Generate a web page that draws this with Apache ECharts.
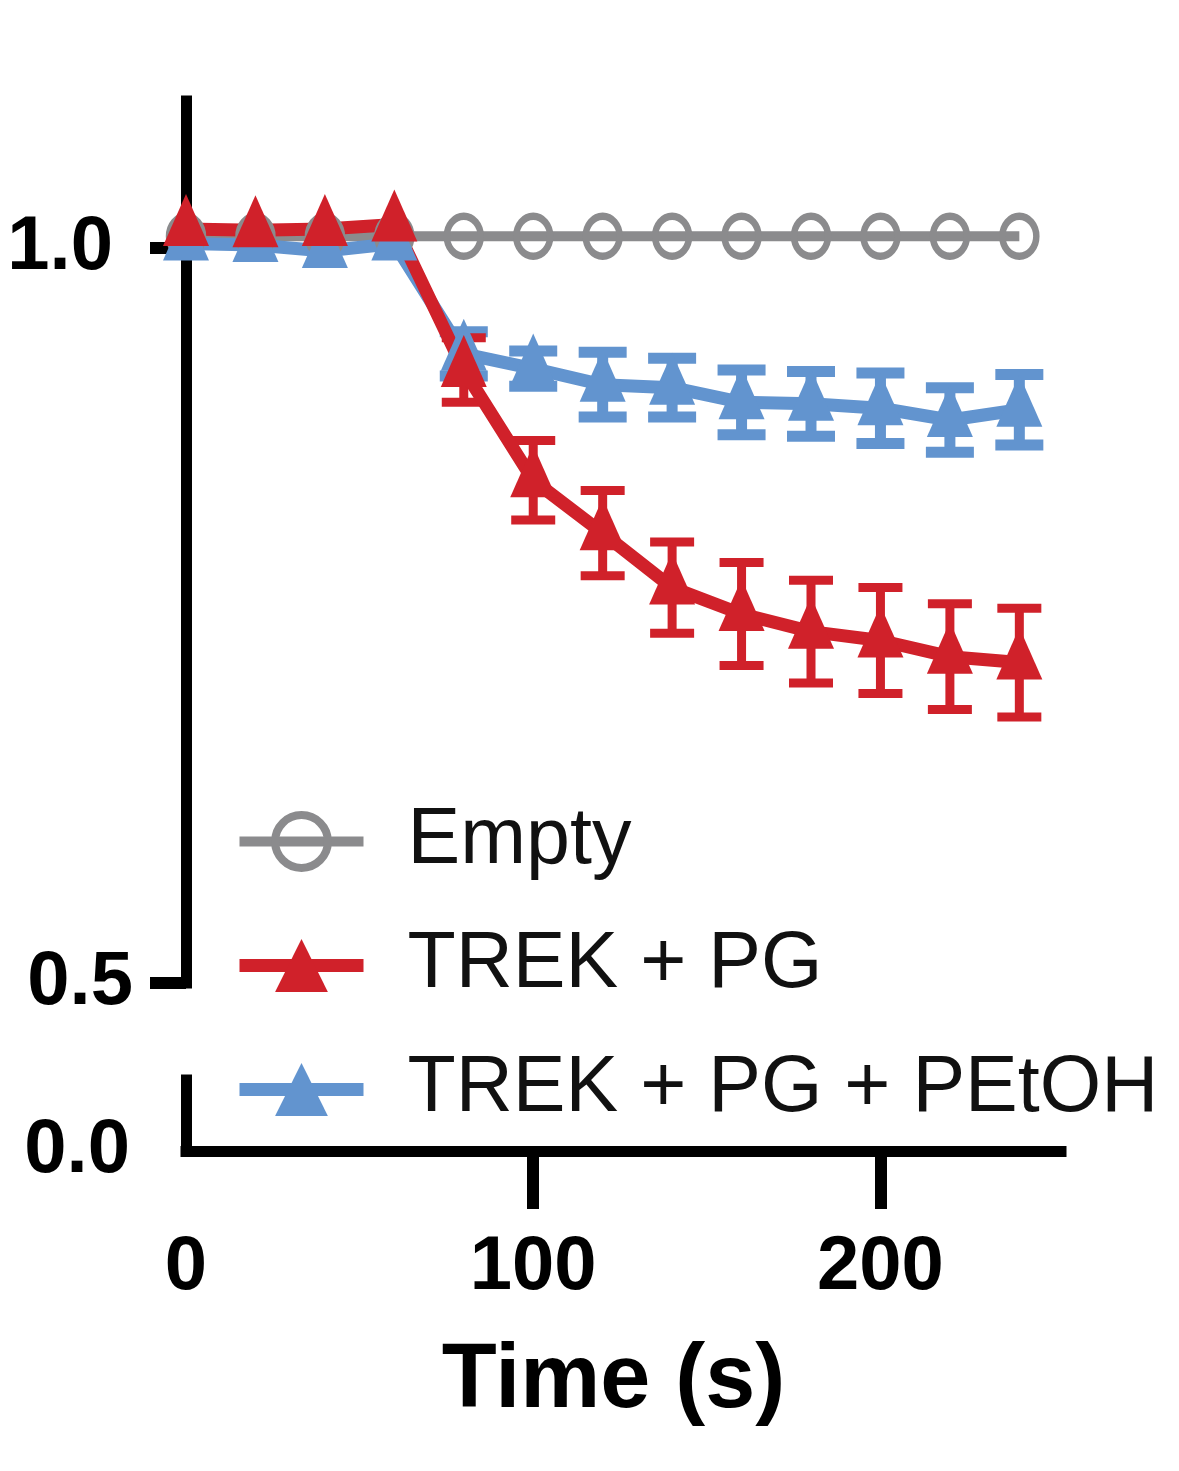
<!DOCTYPE html>
<html>
<head>
<meta charset="utf-8">
<script src="https://cdn.jsdelivr.net/npm/echarts@6/dist/echarts.min.js"></script>
<style>
    html, body { margin: 0; padding: 0; background: #fff; }
    #main { width: 1179px; height: 1471px; }
</style>
</head>
<body>
<div id="main"></div>
<script>
// time points (s)
var times = [0, 20, 40, 60, 80, 100, 120, 140, 160, 180, 200, 220, 240];

// Empty
var emptyVals = [1.008, 1.008, 1.008, 1.008, 1.008, 1.008, 1.008, 1.008, 1.008, 1.008, 1.008, 1.008, 1.008];

// TREK + PG
var pgVals = [1.013, 1.012, 1.013, 1.016, 0.917, 0.842, 0.806, 0.769, 0.751, 0.739, 0.733, 0.722, 0.718];
var pgErr  = [0, 0, 0, 0, 0.022, 0.027, 0.029, 0.031, 0.035, 0.035, 0.036, 0.036, 0.037];

// TREK + PG + PEtOH
var petohVals = [1.003, 1.002, 0.998, 1.003, 0.928, 0.918, 0.907, 0.905, 0.895, 0.894, 0.891, 0.883, 0.890];
var petohErr  = [0, 0, 0, 0, 0.015, 0.012, 0.022, 0.020, 0.022, 0.022, 0.024, 0.022, 0.024];

// tick labels
var yTicksTop = [0.5, 1.0];
var yTicksBottom = [0];
var xLabels = [0, 100, 200];
var xTicks = [100, 200];

var GRAY = '#8b8b8d';
var RED = '#d0212a';
var BLUE = '#6294cf';
var FONT = '"Liberation Sans", Arial, sans-serif';

/**
 * 拼成 [x, y] 数据
 */
var pairs = function(vals) {
    return times.map(function(t, i) { return [t, vals[i]]; });
};

/**
 * 误差线数据 [x, low, high]
 */
var errPairs = function(vals, errs) {
    var out = [];
    times.forEach(function(t, i) {
        if (errs[i] > 0) out.push([t, vals[i] - errs[i], vals[i] + errs[i]]);
    });
    return out;
};

/**
 * 误差线绘制
 */
var errRender = function(color, capW, lw) {
    return function(params, api) {
        var x = api.value(0);
        var lo = api.coord([x, api.value(1)]);
        var hi = api.coord([x, api.value(2)]);
        var st = { stroke: color, lineWidth: lw };
        return {
            type: 'group',
            children: [
                { type: 'line', shape: { x1: hi[0], y1: hi[1], x2: lo[0], y2: lo[1] }, style: st },
                { type: 'line', shape: { x1: hi[0] - capW, y1: hi[1], x2: hi[0] + capW, y2: hi[1] }, style: st },
                { type: 'line', shape: { x1: lo[0] - capW, y1: lo[1], x2: lo[0] + capW, y2: lo[1] }, style: st }
            ]
        };
    };
};

var tickFont = { color: '#000', fontSize: 76, fontWeight: 'bold', fontFamily: FONT };

var chart = echarts.init(document.getElementById('main'));

chart.setOption({
    animation: false,
    backgroundColor: '#fff',
    grid: [
        { left: 186, right: 118, top: 101, bottom: 488 },
        { left: 186, right: 118, top: 1080, bottom: 320 }
    ],
    legend: {
        data: [
            { name: 'Empty', itemStyle: { borderWidth: 8, borderColor: GRAY }, lineStyle: { width: 10 } },
            { name: 'TREK + PG', lineStyle: { width: 13 } },
            { name: 'TREK + PG + PEtOH', lineStyle: { width: 13 } }
        ],
        orient: 'vertical',
        left: 228,
        top: 797,
        itemWidth: 124,
        itemHeight: 66,
        itemGap: 45,
        textStyle: {
            color: '#111',
            fontSize: 79,
            fontFamily: FONT,
            lineHeight: 60,
            padding: [0, 0, 0, 39]
        }
    },
    xAxis: [
        { gridIndex: 0, type: 'value', min: 0, max: 252, show: false },
        {
            gridIndex: 1, type: 'value', min: 0, max: 252,
            axisLine: { show: true, onZero: false, lineStyle: { color: '#000', width: 11, cap: 'square' } },
            axisTick: { show: true, customValues: xTicks, length: 58, lineStyle: { color: '#000', width: 12 } },
            axisLabel: Object.assign({ customValues: xLabels, margin: 79 }, tickFont),
            splitLine: { show: false },
            name: 'Time (s)',
            nameLocation: 'middle',
            nameGap: 186,
            nameTextStyle: { color: '#000', fontSize: 90, fontWeight: 'bold', fontFamily: FONT, padding: [0, 20, 0, 0] }
        }
    ],
    yAxis: [
        {
            gridIndex: 0, type: 'value', min: 0.5, max: 1.1,
            axisLine: { show: true, lineStyle: { color: '#000', width: 11, cap: 'square' } },
            axisTick: { show: true, customValues: yTicksTop, length: 36, lineStyle: { color: '#000', width: 12 } },
            axisLabel: Object.assign({
                customValues: yTicksTop,
                margin: 53,
                formatter: function(v) { return v === 1 ? '{a|1.0}' : '{b|0.5}'; },
                rich: {
                    a: Object.assign({ padding: [0, 20, 0, 0] }, tickFont),
                    b: Object.assign({}, tickFont)
                }
            }, tickFont),
            splitLine: { show: false }
        },
        {
            gridIndex: 1, type: 'value', min: 0, max: 1,
            axisLine: { show: true, lineStyle: { color: '#000', width: 11, cap: 'square' } },
            axisTick: { show: false },
            axisLabel: Object.assign({
                customValues: yTicksBottom,
                margin: 56,
                formatter: function() { return '0.0'; }
            }, tickFont),
            splitLine: { show: false }
        }
    ],
    series: [
        {
            name: 'Empty', type: 'line', xAxisIndex: 0, yAxisIndex: 0,
            data: pairs(emptyVals),
            symbol: 'circle', symbolSize: [34, 40],
            itemStyle: { color: 'rgba(255,255,255,0)', borderColor: GRAY, borderWidth: 7 },
            lineStyle: { color: GRAY, width: 10 }
        },
        {
            name: 'PEtOH err', type: 'custom', xAxisIndex: 0, yAxisIndex: 0,
            data: errPairs(petohVals, petohErr),
            encode: { x: 0, y: [1, 2] },
            renderItem: errRender(BLUE, 24, 11)
        },
        {
            name: 'TREK + PG + PEtOH', type: 'line', xAxisIndex: 0, yAxisIndex: 0,
            data: pairs(petohVals),
            symbol: 'triangle', symbolSize: [46, 52], symbolOffset: [0, -9],
            itemStyle: { color: BLUE },
            lineStyle: { color: BLUE, width: 13 }
        },
        {
            name: 'PG err', type: 'custom', xAxisIndex: 0, yAxisIndex: 0,
            data: errPairs(pgVals, pgErr),
            encode: { x: 0, y: [1, 2] },
            renderItem: errRender(RED, 22, 9)
        },
        {
            name: 'TREK + PG', type: 'line', xAxisIndex: 0, yAxisIndex: 0,
            data: pairs(pgVals),
            symbol: 'triangle', symbolSize: [46, 52], symbolOffset: [0, -9],
            itemStyle: { color: RED },
            lineStyle: { color: RED, width: 13 }
        }
    ]
});
</script>
</body>
</html>
